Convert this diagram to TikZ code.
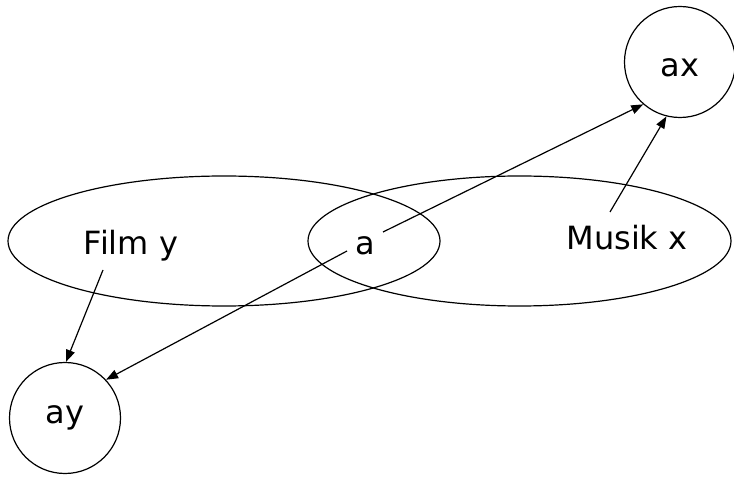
\documentclass[tikz,border=0pt]{standalone}
\usepackage{fontspec}
\setmainfont{DejaVu Sans}
\usetikzlibrary{shapes.geometric,arrows.meta}
\begin{document}
\begin{tikzpicture}[x=1pt,y=1pt,
  every node/.style={font=\fontsize{32}{38}\selectfont},
  setbox/.style={draw,ellipse,line width=1.2pt,inner sep=0pt},
  elem/.style={draw,circle,line width=1.2pt,inner sep=0pt,minimum size=111pt},
  lbl/.style={inner sep=0pt,anchor=base},
  arr/.style={line width=1.2pt,-{Triangle[length=12pt,width=9pt]}}]
\useasboundingbox (0,0) rectangle (734,477);
\node[setbox,minimum width=432pt,minimum height=130pt] (film) at (224,236) {};
\node[setbox,minimum width=423pt,minimum height=130pt] (musik) at (519.5,236) {};
\node[elem,text height=30pt,text depth=0pt] (ax) at (680,415) {ax};
\node[elem] (ay) at (65,59) {ay};
\node[lbl] (fy) at (131,222) {Film y};
\node[lbl] (a) at (365,222) {a};
\node[lbl] (mx) at (627,227) {Musik x};
\draw[arr] ([shift={(18,23)}]a.base) -- (ax.229);
\draw[arr] ([shift={(-17,38)}]mx.base) -- (ax.256);
\draw[arr] ([shift={(-18,4)}]a.base) -- (ay.43);
\draw[arr] ([shift={(-28,-15)}]fy.base) -- (ay.89);
\end{tikzpicture}
\end{document}
